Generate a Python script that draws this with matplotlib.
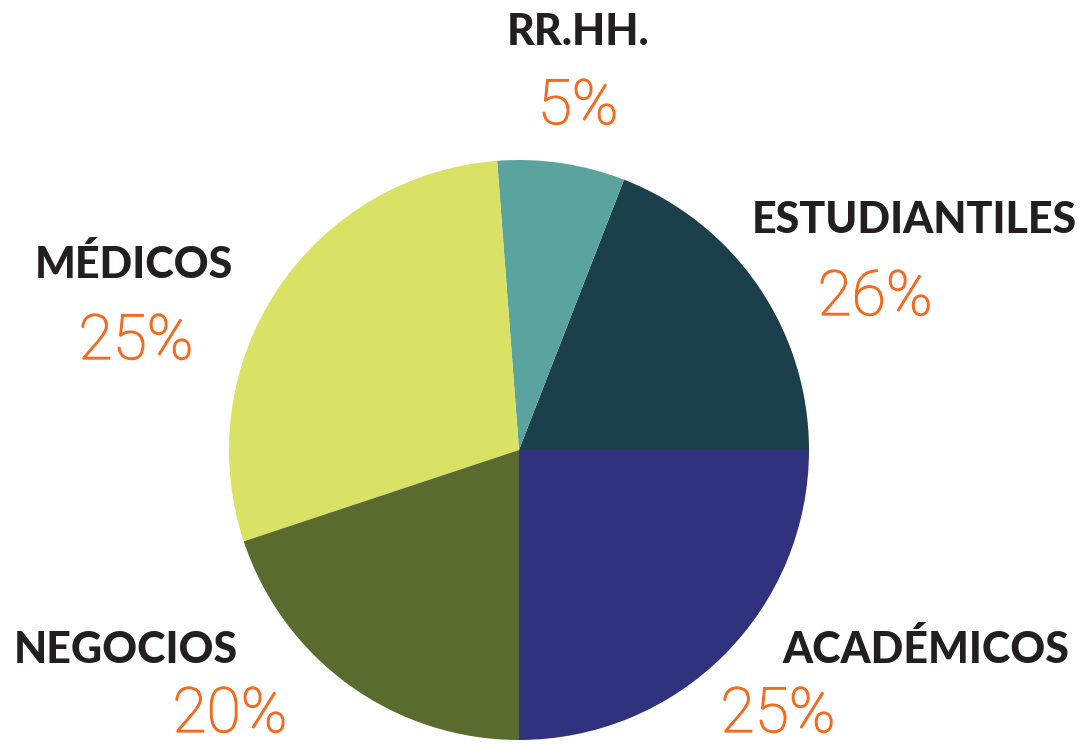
import matplotlib
matplotlib.use("Agg")
import matplotlib.pyplot as plt
import matplotlib.patheffects as pe

# Slice order (counter-clockwise from 3 o'clock)
categories = ["ESTUDIANTILES", "RR.HH.", "MÉDICOS", "NEGOCIOS", "ACADÉMICOS"]
# Slice shares as drawn in the picture (angles)
shares = [19.1, 7.1, 28.9, 19.9, 25.0]
# Percent labels as printed
pct_labels = ["26%", "5%", "25%", "20%", "25%"]
colors = ["#1c404b", "#5ba39f", "#d9e264", "#5a6b2f", "#31327e"]

W, H = 1087, 745
fig = plt.figure(figsize=(W / 100, H / 100), dpi=100)
ax = fig.add_axes([0, 0, 1, 1])

cx, cy, r = 519, H - 450, 290
ax.pie(shares, colors=colors, startangle=0, counterclock=True,
       center=(cx, cy), radius=r, frame=True,
       wedgeprops=dict(linewidth=0))
ax.set_xlim(0, W)
ax.set_ylim(0, H)
ax.set_aspect("equal")
ax.axis("off")

# label positions in pixel coords: (x_center, name_baseline, pct_x, pct_baseline)
pos = {
    "ESTUDIANTILES": (914, 233, 875, 315),
    "RR.HH.": (578, 45, 578, 124),
    "MÉDICOS": (134, 278, 136, 359),
    "NEGOCIOS": (126, 663, 230, 732),
    "ACADÉMICOS": (926, 663, 778, 732),
}
orange = "#f26b21"
for cat, pl in zip(categories, pct_labels):
    nx, nb, px, pb = pos[cat]
    ax.text(nx, H - nb, cat, ha="center", va="baseline", fontsize=31,
            family="Lato", fontweight="black", color="#231f20")
    ax.text(px, H - pb, pl, ha="center", va="baseline", fontsize=45,
            family="Roboto", fontweight="light", color=orange,
            path_effects=[pe.withStroke(linewidth=0.9, foreground=orange)])

fig.savefig("out.png", dpi=100)
